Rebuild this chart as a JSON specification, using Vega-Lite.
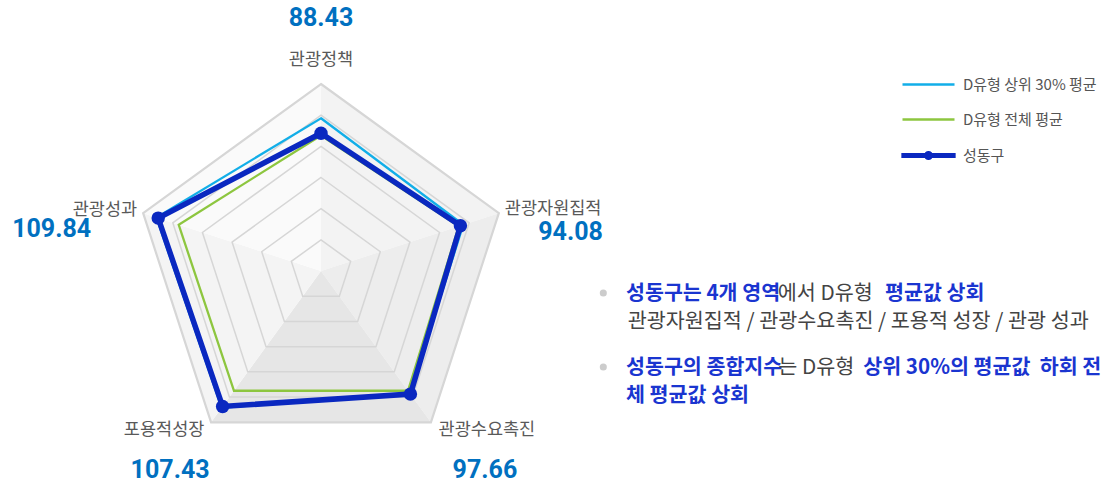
{
  "$schema": "https://vega.github.io/schema/vega-lite/v6.json",
  "width": 1114,
  "height": 484,
  "padding": 0,
  "autosize": {"type": "none"},
  "background": "#ffffff",
  "config": {"view": {"stroke": null}, "text": {"font": "Noto Sans CJK KR"}},
  "datasets": {
    "scores": [
      {"series": "D유형 상위 30% 평균", "axis": "관광정책", "value": 98},
      {"series": "D유형 상위 30% 평균", "axis": "관광자원집적", "value": 96},
      {"series": "D유형 상위 30% 평균", "axis": "관광수요촉진", "value": 97},
      {"series": "D유형 상위 30% 평균", "axis": "포용적성장", "value": 108.5},
      {"series": "D유형 상위 30% 평균", "axis": "관광성과", "value": 111},
      {"series": "D유형 전체 평균", "axis": "관광정책", "value": 87},
      {"series": "D유형 전체 평균", "axis": "관광자원집적", "value": 93},
      {"series": "D유형 전체 평균", "axis": "관광수요촉진", "value": 95},
      {"series": "D유형 전체 평균", "axis": "포용적성장", "value": 95},
      {"series": "D유형 전체 평균", "axis": "관광성과", "value": 96},
      {"series": "성동구", "axis": "관광정책", "value": 88.43},
      {"series": "성동구", "axis": "관광자원집적", "value": 94.08},
      {"series": "성동구", "axis": "관광수요촉진", "value": 97.66},
      {"series": "성동구", "axis": "포용적성장", "value": 107.43},
      {"series": "성동구", "axis": "관광성과", "value": 109.84}
    ],
    "rings": [
      {"level": 20, "k": [0, 1, 2, 3, 4]},
      {"level": 40, "k": [0, 1, 2, 3, 4]},
      {"level": 60, "k": [0, 1, 2, 3, 4]},
      {"level": 80, "k": [0, 1, 2, 3, 4]},
      {"level": 100, "k": [0, 1, 2, 3, 4]},
      {"level": 120, "k": [0, 1, 2, 3, 4]}
    ],
    "sectors": [
      {"s": 0, "k": [0, 0, 1], "r": [0, 120, 120]},
      {"s": 1, "k": [1, 1, 2], "r": [0, 120, 120]},
      {"s": 2, "k": [2, 2, 3], "r": [0, 120, 120]},
      {"s": 3, "k": [3, 3, 4], "r": [0, 120, 120]},
      {"s": 4, "k": [4, 4, 5], "r": [0, 120, 120]}
    ]
  },
  "layer": [
    {
      "encoding": {
        "x": {"field": "px", "type": "quantitative", "scale": {"domain": [-205.99, 508.88], "nice": false, "zero": false}, "axis": null},
        "y": {"field": "py", "type": "quantitative", "scale": {"domain": [-136.69, 173.9], "nice": false, "zero": false}, "axis": null}
      },
      "layer": [
        {
          "data": {"name": "sectors"},
          "transform": [
            {"flatten": ["k", "r"]},
            {"calculate": "datum.r * sin(datum.k * 2 * PI / 5)", "as": "px"},
            {"calculate": "datum.r * cos(datum.k * 2 * PI / 5)", "as": "py"}
          ],
          "mark": {"type": "line", "interpolate": "linear-closed", "strokeWidth": 0},
          "encoding": {
            "detail": {"field": "s", "type": "nominal"},
            "order": {"value": null},
            "fill": {"field": "s", "type": "nominal", "scale": {"domain": [0, 1, 2, 3, 4], "range": ["#f3f3f3", "#ededed", "#e6e6e6", "#f4f4f4", "#fafafa"]}, "legend": null}
          }
        },
        {
          "data": {"name": "rings"},
          "transform": [
            {"flatten": ["k"]},
            {"calculate": "datum.level * sin(datum.k * 2 * PI / 5)", "as": "px"},
            {"calculate": "datum.level * cos(datum.k * 2 * PI / 5)", "as": "py"}
          ],
          "mark": {"type": "line", "interpolate": "linear-closed", "color": "#d6d6d6"},
          "encoding": {
            "detail": {"field": "level", "type": "nominal"},
            "order": {"field": "k", "type": "quantitative"},
            "strokeWidth": {"condition": {"test": "datum.level === 120", "value": 2.2}, "value": 1.5}
          }
        },
        {
          "data": {"name": "scores"},
          "transform": [
            {"filter": "datum.series !== '성동구'"},
            {"calculate": "indexof(['관광정책','관광자원집적','관광수요촉진','포용적성장','관광성과'], datum.axis)", "as": "k"},
            {"calculate": "datum.value * sin(datum.k * 2 * PI / 5)", "as": "px"},
            {"calculate": "datum.value * cos(datum.k * 2 * PI / 5)", "as": "py"}
          ],
          "mark": {"type": "line", "interpolate": "linear-closed", "strokeWidth": 2.3},
          "encoding": {
            "order": {"field": "k", "type": "quantitative"},
            "color": {
              "field": "series", "type": "nominal",
              "scale": {"domain": ["D유형 상위 30% 평균", "D유형 전체 평균", "성동구"], "range": ["#12aee8", "#8dc63f", "#0a28c0"]},
              "legend": {
                "orient": "none", "legendX": 921, "legendY": 77, "title": null, "padding": 0,
                "symbolSize": 100, "symbolType": "M-5.2,0H5.2", "symbolStrokeWidth": 2.3,
                "labelOffset": 27, "labelFont": "Noto Sans CJK KR", "labelFontSize": 15, "labelColor": "#555555",
                "rowPadding": 19,
                "encode": {
                  "symbols": {
                    "update": {
                      "shape": {"signal": "datum.value === '성동구' ? 'M-5.2,-0.27H5.2V0.27H-5.2ZM0.67,0A0.67,0.67,0,1,1,-0.67,0A0.67,0.67,0,1,1,0.67,0Z' : 'M-5.2,0H5.2'"},
                      "fill": {"signal": "datum.value === '성동구' ? '#0a28c0' : 'transparent'"}
                    }
                  }
                }
              }
            }
          }
        },
        {
          "data": {"name": "scores"},
          "transform": [
            {"filter": "datum.series === '성동구'"},
            {"calculate": "indexof(['관광정책','관광자원집적','관광수요촉진','포용적성장','관광성과'], datum.axis)", "as": "k"},
            {"calculate": "datum.value * sin(datum.k * 2 * PI / 5)", "as": "px"},
            {"calculate": "datum.value * cos(datum.k * 2 * PI / 5)", "as": "py"}
          ],
          "mark": {"type": "line", "interpolate": "linear-closed", "strokeWidth": 5.5},
          "encoding": {
            "order": {"field": "k", "type": "quantitative"},
            "color": {"field": "series", "type": "nominal"}
          }
        },
        {
          "data": {"name": "scores"},
          "transform": [
            {"filter": "datum.series === '성동구'"},
            {"calculate": "indexof(['관광정책','관광자원집적','관광수요촉진','포용적성장','관광성과'], datum.axis)", "as": "k"},
            {"calculate": "datum.value * sin(datum.k * 2 * PI / 5)", "as": "px"},
            {"calculate": "datum.value * cos(datum.k * 2 * PI / 5)", "as": "py"}
          ],
          "mark": {"type": "point", "filled": true, "opacity": 1, "size": 180, "color": "#0a28c0"}
        },
        {
          "data": {"name": "scores"},
          "transform": [
            {"filter": "datum.series === '성동구' && datum.axis === '관광정책'"},
            {"calculate": "indexof(['관광정책','관광자원집적','관광수요촉진','포용적성장','관광성과'], datum.axis)", "as": "k"},
            {"calculate": "120 * sin(datum.k * 2 * PI / 5)", "as": "px"},
            {"calculate": "120 * cos(datum.k * 2 * PI / 5)", "as": "py"}
          ],
          "layer": [
            {"mark": {"type": "text", "align": "center", "baseline": "middle", "dx": 0, "dy": -24, "fontSize": 17.5, "color": "#595959"}, "encoding": {"text": {"field": "axis"}}},
            {"mark": {"type": "text", "align": "center", "baseline": "middle", "dx": 0, "dy": -66, "font": "Roboto", "fontWeight": "bold", "fontSize": 25, "color": "#0070c0"}, "encoding": {"text": {"field": "value", "type": "quantitative", "format": ".2f"}}}
          ]
        },
        {
          "data": {"name": "scores"},
          "transform": [
            {"filter": "datum.series === '성동구' && datum.axis === '관광자원집적'"},
            {"calculate": "indexof(['관광정책','관광자원집적','관광수요촉진','포용적성장','관광성과'], datum.axis)", "as": "k"},
            {"calculate": "120 * sin(datum.k * 2 * PI / 5)", "as": "px"},
            {"calculate": "120 * cos(datum.k * 2 * PI / 5)", "as": "py"}
          ],
          "layer": [
            {"mark": {"type": "text", "align": "left", "baseline": "middle", "dx": 6, "dy": -4, "fontSize": 17.5, "color": "#595959"}, "encoding": {"text": {"field": "axis"}}},
            {"mark": {"type": "text", "align": "right", "baseline": "middle", "dx": 104, "dy": 19, "font": "Roboto", "fontWeight": "bold", "fontSize": 25, "color": "#0070c0"}, "encoding": {"text": {"field": "value", "type": "quantitative", "format": ".2f"}}}
          ]
        },
        {
          "data": {"name": "scores"},
          "transform": [
            {"filter": "datum.series === '성동구' && datum.axis === '관광수요촉진'"},
            {"calculate": "indexof(['관광정책','관광자원집적','관광수요촉진','포용적성장','관광성과'], datum.axis)", "as": "k"},
            {"calculate": "120 * sin(datum.k * 2 * PI / 5)", "as": "px"},
            {"calculate": "120 * cos(datum.k * 2 * PI / 5)", "as": "py"}
          ],
          "layer": [
            {"mark": {"type": "text", "align": "center", "baseline": "middle", "dx": 56, "dy": 8, "fontSize": 17.5, "color": "#595959"}, "encoding": {"text": {"field": "axis"}}},
            {"mark": {"type": "text", "align": "center", "baseline": "middle", "dx": 54, "dy": 48, "font": "Roboto", "fontWeight": "bold", "fontSize": 25, "color": "#0070c0"}, "encoding": {"text": {"field": "value", "type": "quantitative", "format": ".2f"}}}
          ]
        },
        {
          "data": {"name": "scores"},
          "transform": [
            {"filter": "datum.series === '성동구' && datum.axis === '포용적성장'"},
            {"calculate": "indexof(['관광정책','관광자원집적','관광수요촉진','포용적성장','관광성과'], datum.axis)", "as": "k"},
            {"calculate": "120 * sin(datum.k * 2 * PI / 5)", "as": "px"},
            {"calculate": "120 * cos(datum.k * 2 * PI / 5)", "as": "py"}
          ],
          "layer": [
            {"mark": {"type": "text", "align": "center", "baseline": "middle", "dx": -47, "dy": 8, "fontSize": 17.5, "color": "#595959"}, "encoding": {"text": {"field": "axis"}}},
            {"mark": {"type": "text", "align": "center", "baseline": "middle", "dx": -41, "dy": 48, "font": "Roboto", "fontWeight": "bold", "fontSize": 25, "color": "#0070c0"}, "encoding": {"text": {"field": "value", "type": "quantitative", "format": ".2f"}}}
          ]
        },
        {
          "data": {"name": "scores"},
          "transform": [
            {"filter": "datum.series === '성동구' && datum.axis === '관광성과'"},
            {"calculate": "indexof(['관광정책','관광자원집적','관광수요촉진','포용적성장','관광성과'], datum.axis)", "as": "k"},
            {"calculate": "120 * sin(datum.k * 2 * PI / 5)", "as": "px"},
            {"calculate": "120 * cos(datum.k * 2 * PI / 5)", "as": "py"}
          ],
          "layer": [
            {"mark": {"type": "text", "align": "right", "baseline": "middle", "dx": -6, "dy": -3, "fontSize": 17.5, "color": "#595959"}, "encoding": {"text": {"field": "axis"}}},
            {"mark": {"type": "text", "align": "left", "baseline": "middle", "dx": -131, "dy": 16, "font": "Roboto", "fontWeight": "bold", "fontSize": 25, "color": "#0070c0"}, "encoding": {"text": {"field": "value", "type": "quantitative", "format": ".2f"}}}
          ]
        }
      ]
    },
    {
      "layer": [
        {
          "data": {"values": [{"t": "•"}]},
          "mark": {"type": "point", "filled": true, "opacity": 1, "size": 50, "color": "#cccccc"},
          "encoding": {"x": {"datum": 181.16, "type": "quantitative"}, "y": {"datum": -14.12, "type": "quantitative"}}
        },
        {
          "data": {"values": [{"t": "•"}]},
          "mark": {"type": "point", "filled": true, "opacity": 1, "size": 50, "color": "#cccccc"},
          "encoding": {"x": {"datum": 181.16, "type": "quantitative"}, "y": {"datum": -61.6, "type": "quantitative"}}
        },
        {
          "data": {"values": [{"t": "성동구는 4개 영역"}]},
          "mark": {"type": "text", "align": "left", "baseline": "middle", "fontSize": 20.6, "fontWeight": "bold", "color": "#1a35d0"},
          "encoding": {"x": {"datum": 195.72, "type": "quantitative"}, "y": {"datum": -14.76, "type": "quantitative"}, "text": {"field": "t"}}
        },
        {
          "data": {"values": [{"t": "에서 D유형"}]},
          "mark": {"type": "text", "align": "left", "baseline": "middle", "fontSize": 20.7, "color": "#444444"},
          "encoding": {"x": {"datum": 293.07, "type": "quantitative"}, "y": {"datum": -14.76, "type": "quantitative"}, "text": {"field": "t"}}
        },
        {
          "data": {"values": [{"t": "평균값 상회"}]},
          "mark": {"type": "text", "align": "left", "baseline": "middle", "fontSize": 20.6, "fontWeight": "bold", "color": "#1a35d0"},
          "encoding": {"x": {"datum": 361.93, "type": "quantitative"}, "y": {"datum": -14.76, "type": "quantitative"}, "text": {"field": "t"}}
        },
        {
          "data": {"values": [{"t": "관광자원집적 / 관광수요촉진 / 포용적 성장 / 관광 성과"}]},
          "mark": {"type": "text", "align": "left", "baseline": "middle", "fontSize": 20.7, "color": "#444444"},
          "encoding": {"x": {"datum": 196.81, "type": "quantitative"}, "y": {"datum": -32.73, "type": "quantitative"}, "text": {"field": "t"}}
        },
        {
          "data": {"values": [{"t": "성동구의 종합지수"}]},
          "mark": {"type": "text", "align": "left", "baseline": "middle", "fontSize": 20.6, "fontWeight": "bold", "color": "#1a35d0"},
          "encoding": {"x": {"datum": 195.72, "type": "quantitative"}, "y": {"datum": -62.25, "type": "quantitative"}, "text": {"field": "t"}}
        },
        {
          "data": {"values": [{"t": "는 D유형"}]},
          "mark": {"type": "text", "align": "left", "baseline": "middle", "fontSize": 20.7, "color": "#444444"},
          "encoding": {"x": {"datum": 293.46, "type": "quantitative"}, "y": {"datum": -62.25, "type": "quantitative"}, "text": {"field": "t"}}
        },
        {
          "data": {"values": [{"t": "상위 30%의 평균값\u00a0 하회 전"}]},
          "mark": {"type": "text", "align": "left", "baseline": "middle", "fontSize": 20.6, "fontWeight": "bold", "color": "#1a35d0"},
          "encoding": {"x": {"datum": 348.0, "type": "quantitative"}, "y": {"datum": -62.25, "type": "quantitative"}, "text": {"field": "t"}}
        },
        {
          "data": {"values": [{"t": "체 평균값 상회"}]},
          "mark": {"type": "text", "align": "left", "baseline": "middle", "fontSize": 20.6, "fontWeight": "bold", "color": "#1a35d0"},
          "encoding": {"x": {"datum": 195.72, "type": "quantitative"}, "y": {"datum": -80.21, "type": "quantitative"}, "text": {"field": "t"}}
        }
      ]
    }
  ]
}
